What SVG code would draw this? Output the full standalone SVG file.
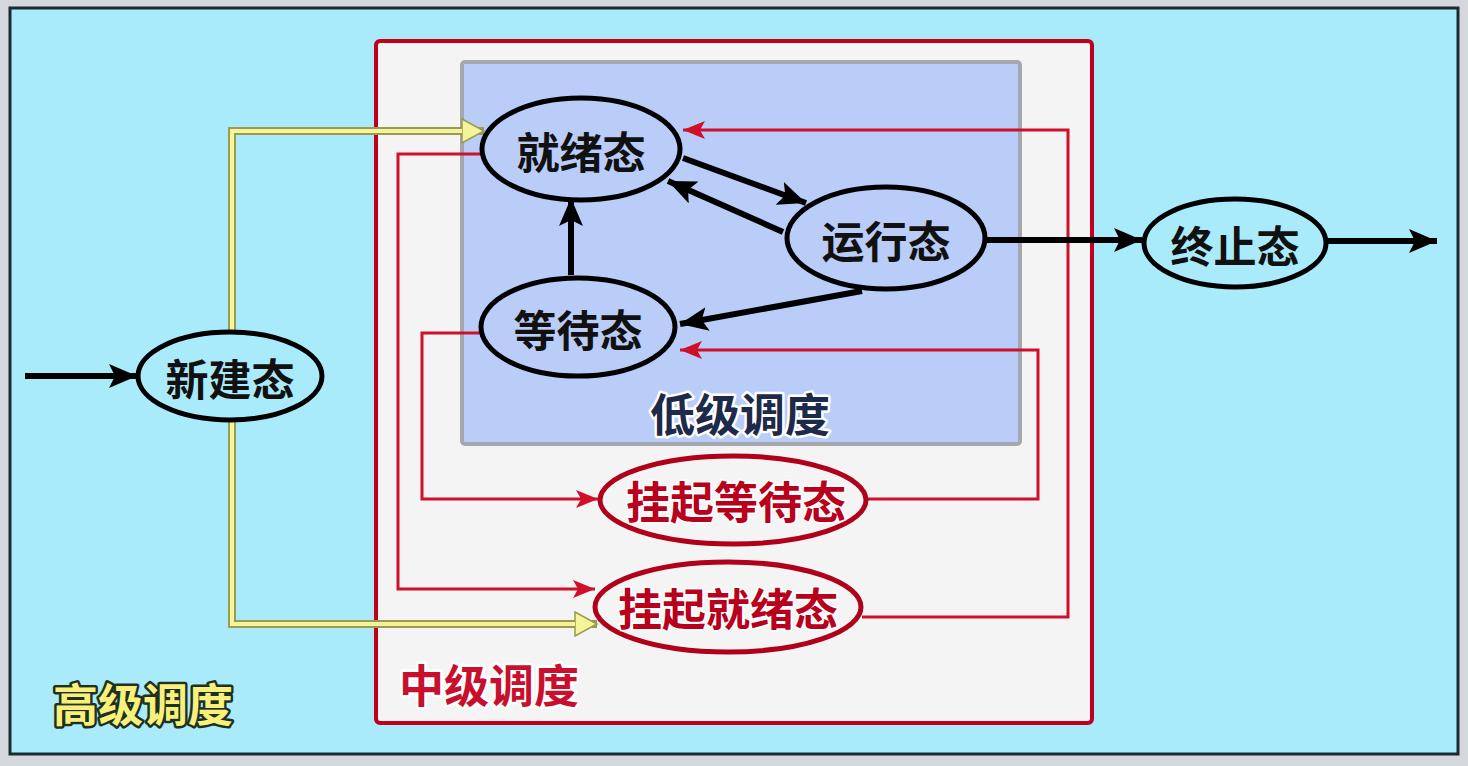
<svg xmlns="http://www.w3.org/2000/svg" width="1468" height="766" viewBox="0 0 1468 766">
<defs>
<marker id="ab" markerUnits="userSpaceOnUse" markerWidth="30" markerHeight="26" refX="28" refY="12" orient="auto"><path d="M0,0 L28,12 L0,24 L6,12 z" fill="#000"/></marker>
<marker id="ar" markerUnits="userSpaceOnUse" markerWidth="24" markerHeight="20" refX="22" refY="9" orient="auto"><path d="M0,0 L22,9 L0,18 L5,9 z" fill="#d0102a"/></marker>
<marker id="ay" markerUnits="userSpaceOnUse" markerWidth="26" markerHeight="28" refX="23" refY="13" orient="auto"><path d="M1,1 L23,13 L1,25 z" fill="#f6f49a" stroke="#9a9a50" stroke-width="1.5"/></marker>
</defs>
<style>
.nt{font-family:"Noto Sans CJK SC","Noto Sans",sans-serif;font-weight:bold;font-size:43px;text-anchor:middle;dominant-baseline:central}
.blk{fill:#111}
.red{fill:#b8001c;stroke:#ffffff;stroke-width:3;paint-order:stroke;font-size:44px}
.eb{stroke:#000;stroke-width:5}
.er{stroke:#b0001a;stroke-width:5;fill:#f4f4f4}
.cb{fill:none;stroke:#000;stroke-width:6;marker-end:url(#ab)}
.cr{fill:none;stroke:#d0102a;stroke-width:3;marker-end:url(#ar)}
.yo{fill:none;stroke:#9a9a50;stroke-width:8;marker-end:url(#ay)}
.yi{fill:none;stroke:#f6f49a;stroke-width:4}
.lbl{font-family:"Noto Sans CJK SC","Noto Sans",sans-serif;font-weight:bold;font-size:45px;text-anchor:middle;dominant-baseline:central;paint-order:stroke;stroke-linejoin:round}
</style>
<rect x="0" y="0" width="1468" height="766" fill="#d4d8dc"/>
<rect x="10" y="8" width="1448" height="746" fill="#aaebfb" stroke="#1a2a30" stroke-width="3"/>
<g id="mid-box">
<rect x="376" y="41" width="716" height="682" rx="4" fill="#f4f4f4" stroke="#c0001a" stroke-width="4"/>
</g>
<g id="low-box">
<rect x="462" y="62" width="558" height="382" rx="3" fill="#b9cdf8" stroke="#a4a8ae" stroke-width="4"/>
</g>
<g id="connectors">
<path class="yo" d="M232,331 V131 H484"/>
<path class="yi" d="M232,331 V131 H462"/>
<path class="yo" d="M232,421 V624 H597"/>
<path class="yi" d="M232,421 V624 H575"/>
<path class="cr" d="M485,154 H398 V589 H595"/>
<path class="cr" d="M862,617 H1068 V130 H683"/>
<path class="cr" d="M482,333 H422 V499 H598"/>
<path class="cr" d="M867,499 H1038 V350 H680"/>
<path class="cb" stroke-width="8" d="M25,376 H137"/>
<path class="cb" d="M683,158 L806,203"/>
<path class="cb" d="M783,232 L668,181"/>
<path class="cb" d="M571,275 V198"/>
<path class="cb" d="M862,291 L680,324"/>
<path class="cb" d="M987,240 H1142"/>
<path class="cb" stroke-width="8" d="M1327,241 H1437"/>
</g>
<g id="n-ready"><ellipse class="eb" cx="581" cy="149" rx="99" ry="51" fill="#b9cdf8"/><text class="nt blk" x="581" y="150">就绪态</text></g>
<g id="n-run"><ellipse class="eb" cx="886" cy="238" rx="99" ry="51" fill="#b9cdf8"/><text class="nt blk" x="886" y="239">运行态</text></g>
<g id="n-wait"><ellipse class="eb" cx="578" cy="327" rx="97" ry="49" fill="#b9cdf8"/><text class="nt blk" x="578" y="328">等待态</text></g>
<g id="n-new"><ellipse class="eb" cx="230" cy="376" rx="92" ry="44" fill="#aaebfb"/><text class="nt blk" x="230" y="377">新建态</text></g>
<g id="n-exit"><ellipse class="eb" cx="1235" cy="243" rx="91" ry="44" fill="#aaebfb"/><text class="nt blk" x="1235" y="244">终止态</text></g>
<g id="n-swait"><ellipse class="er" cx="733" cy="500" rx="133" ry="44"/><text class="nt red" x="736" y="500">挂起等待态</text></g>
<g id="n-sready"><ellipse class="er" cx="728" cy="607" rx="133" ry="45"/><text class="nt red" x="728" y="607">挂起就绪态</text></g>
<g id="labels">
<text class="lbl" x="740" y="412" fill="#1e2a4a" stroke="#ffffff" stroke-width="5">低级调度</text>
<text class="lbl" x="489" y="683" fill="#c8102e" stroke="#ffffff" stroke-width="5">中级调度</text>
<text class="lbl" x="143" y="702" fill="#f8f07a" stroke="#1e3020" stroke-width="5">高级调度</text>
</g>
</svg>
